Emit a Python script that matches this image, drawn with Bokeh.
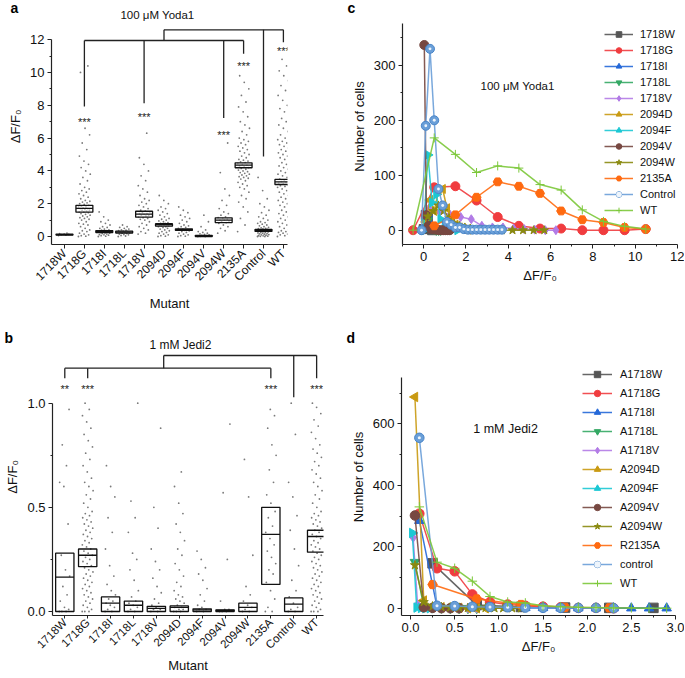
import math
from bokeh.plotting import figure
from bokeh.layouts import column, row
from bokeh.models import FixedTicker, Label, Legend, LegendItem, Range1d, Title, ColumnDataSource
from bokeh.embed import file_html
from bokeh.resources import INLINE
from bokeh.core.properties import value

FONT = "Liberation Sans"

# ---------------- data ----------------
mutants = ["1718W", "1718G", "1718I", "1718L", "1718V", "2094D", "2094F",
           "2094V", "2094W", "2135A", "Control", "WT"]

# panel a (100 uM Yoda1) box statistics
a_q1 = [0.09, 1.48, 0.24, 0.21, 1.18, 0.63, 0.37, 0.0, 0.85, 4.19, 0.31, 3.17]
a_med = [0.12, 1.72, 0.30, 0.27, 1.36, 0.72, 0.42, 0.03, 1.00, 4.35, 0.37, 3.33]
a_q3 = [0.15, 1.90, 0.36, 0.33, 1.54, 0.78, 0.47, 0.06, 1.14, 4.49, 0.44, 3.48]

a_pts_1718W = [0.06, 0.09, 0.11, 0.13, 0.15, 0.18, 0.21]
a_pts_1718G = [0.0, 0.02, 0.05, 0.1, 0.15, 0.2, 0.3, 0.35, 0.4, 0.5, 0.6, 0.7, 0.75, 0.8, 0.9, 1.0, 1.05,
               1.1, 1.15, 1.2, 1.25, 1.3, 1.35, 1.4, 1.45, 1.5, 1.5, 1.55, 1.6, 1.6, 1.65, 1.7, 1.7, 1.75,
               1.8, 1.8, 1.85, 1.9, 1.95, 2.0, 2.05, 2.1, 2.15, 2.2, 2.3, 2.4, 2.5, 2.6, 2.7, 2.8, 2.9,
               3.0, 3.2, 3.4, 3.6, 3.8, 4.0, 4.2, 4.4, 4.6, 4.9, 5.3, 5.7, 6.2, 6.6, 10.0, 10.4]
a_pts_1718I = [0.0, 0.02, 0.05, 0.08, 0.1, 0.12, 0.15, 0.18, 0.2, 0.22, 0.25, 0.28, 0.3, 0.32, 0.35, 0.38,
               0.4, 0.45, 0.5, 0.55, 0.6, 0.7, 0.8, 0.9, 1.0, 1.2, 1.5]
a_pts_1718L = [0.0, 0.03, 0.06, 0.1, 0.12, 0.15, 0.18, 0.2, 0.22, 0.25, 0.27, 0.3, 0.32, 0.35, 0.38, 0.4,
               0.45, 0.5, 0.55, 0.6, 0.7]
a_pts_1718V = [0.15, 0.2, 0.3, 0.4, 0.5, 0.6, 0.7, 0.8, 0.9, 1.0, 1.05, 1.1, 1.15, 1.2, 1.25, 1.3, 1.3,
               1.35, 1.4, 1.4, 1.45, 1.5, 1.55, 1.6, 1.7, 1.8, 1.9, 2.0, 2.1, 2.2, 2.3, 2.5, 2.7, 2.9,
               3.1, 3.4, 3.7, 4.0, 4.4, 4.8, 6.3]
a_pts_2094D = [0.0, 0.02, 0.05, 0.1, 0.15, 0.2, 0.25, 0.3, 0.35, 0.4, 0.45, 0.5, 0.55, 0.6, 0.6, 0.65,
               0.65, 0.7, 0.7, 0.72, 0.75, 0.75, 0.8, 0.8, 0.85, 0.9, 0.95, 1.0, 1.05, 1.1, 1.2, 1.3,
               1.4, 1.5, 1.6, 1.7, 1.8, 2.0, 2.2, 2.5]
a_pts_2094F = [0.0, 0.02, 0.05, 0.1, 0.15, 0.2, 0.25, 0.3, 0.35, 0.38, 0.4, 0.42, 0.45, 0.5, 0.55, 0.6,
               0.65, 0.7, 0.8, 0.9, 1.0, 1.1, 1.2, 1.3, 1.45, 1.6, 1.8]
a_pts_2094V = [0.0, 0.0, 0.01, 0.02, 0.03, 0.04, 0.05, 0.07, 0.1, 0.13, 0.16, 0.2, 0.25, 0.3, 0.4, 0.6,
               0.9, 1.3]
a_pts_2094W = [0.2, 0.35, 0.5, 0.6, 0.7, 0.8, 0.85, 0.9, 0.95, 1.0, 1.0, 1.05, 1.1, 1.15, 1.2, 1.3, 1.4,
               1.5, 1.7, 1.9, 2.2, 2.5, 2.9, 3.9, 5.7]
a_pts_2135A = [0.3, 0.7, 1.1, 1.5, 1.8, 2.1, 2.3, 2.5, 2.7, 2.9, 3.0, 3.1, 3.2, 3.3, 3.4, 3.5, 3.55, 3.6,
               3.65, 3.7, 3.75, 3.8, 3.85, 3.9, 3.95, 4.0, 4.05, 4.1, 4.15, 4.2, 4.25, 4.3, 4.35, 4.4,
               4.45, 4.5, 4.55, 4.6, 4.65, 4.7, 4.8, 4.9, 5.0, 5.1, 5.2, 5.3, 5.4, 5.5, 5.6, 5.7, 5.8,
               5.9, 6.0, 6.2, 6.4, 6.6, 6.8, 7.0, 7.3, 7.6, 7.9, 8.2, 8.6, 9.0, 9.4, 9.8]
a_pts_Control = [0.0, 0.0, 0.01, 0.02, 0.04, 0.06, 0.08, 0.1, 0.12, 0.14, 0.16, 0.18, 0.2, 0.22, 0.24,
                 0.26, 0.28, 0.3, 0.32, 0.34, 0.36, 0.38, 0.4, 0.42, 0.44, 0.46, 0.48, 0.5, 0.53, 0.56,
                 0.6, 0.65, 0.7, 0.75, 0.8, 0.85, 0.9, 1.0, 1.1, 1.2, 1.3, 1.45, 1.6, 1.8, 2.0, 2.3,
                 2.8, 3.6]
a_pts_WT = [0.0, 0.05, 0.1, 0.15, 0.2, 0.25, 0.3, 0.35, 0.4, 0.5, 0.6, 0.7, 0.8, 0.9, 1.0, 1.1, 1.2,
            1.3, 1.4, 1.5, 1.6, 1.7, 1.8, 1.9, 2.0, 2.1, 2.2, 2.3, 2.4, 2.5, 2.6, 2.7, 2.8, 2.9, 3.0,
            3.05, 3.1, 3.15, 3.2, 3.25, 3.3, 3.35, 3.4, 3.45, 3.5, 3.6, 3.7, 3.8, 3.9, 4.0, 4.1, 4.2,
            4.3, 4.4, 4.5, 4.6, 4.7, 4.8, 4.9, 5.0, 5.1, 5.2, 5.3, 5.4, 5.5, 5.6, 5.7, 5.8, 5.9, 6.0,
            6.2, 6.4, 6.6, 6.8, 7.0, 7.2, 7.4, 7.6, 7.8, 8.0, 8.3, 8.6, 8.9, 9.2, 9.5, 9.8, 10.1,
            10.4, 10.8]
a_points = [a_pts_1718W, a_pts_1718G, a_pts_1718I, a_pts_1718L, a_pts_1718V, a_pts_2094D,
            a_pts_2094F, a_pts_2094V, a_pts_2094W, a_pts_2135A, a_pts_Control, a_pts_WT]

# panel a significance brackets
a_top_bracket = 12.6
a_low_bracket = 11.95
a_junction = 5
a_low_groups = [1, 4, 8, 9]
a_low_drop = [7.93, 8.13, 7.22, 11.14]
a_top_groups = [10, 11]
a_top_drop = [4.88, 11.85]
a_star_groups = [1, 4, 8, 9, 11]
a_star_y = [7.0, 7.3, 6.2, 10.4, 11.3]
a_star_text = ["***", "***", "***", "***", "***"]

# panel b (1 mM Jedi2)
b_q1 = [0.0, 0.215, 0.0, 0.0, 0.0, 0.0, 0.0, 0.0, 0.0, 0.13, 0.0, 0.285]
b_med = [0.165, 0.27, 0.04, 0.03, 0.015, 0.02, 0.008, 0.005, 0.02, 0.37, 0.035, 0.36]
b_q3 = [0.28, 0.30, 0.07, 0.05, 0.025, 0.027, 0.013, 0.008, 0.04, 0.50, 0.065, 0.39]

b_pts_1718W = [0.0, 0.0, 0.0, 0.01, 0.02, 0.05, 0.08, 0.12, 0.17, 0.2, 0.27, 0.42, 0.6, 0.62, 0.7, 0.8, 0.97]
b_pts_1718G = [0.0, 0.0, 0.0, 0.01, 0.02, 0.03, 0.04, 0.05, 0.06, 0.07, 0.08, 0.09, 0.1, 0.11, 0.12, 0.13,
               0.14, 0.15, 0.16, 0.17, 0.18, 0.19, 0.2, 0.21, 0.22, 0.23, 0.24, 0.25, 0.26, 0.27, 0.28,
               0.29, 0.3, 0.31, 0.32, 0.33, 0.34, 0.35, 0.36, 0.37, 0.38, 0.39, 0.4, 0.41, 0.42, 0.43,
               0.44, 0.45, 0.46, 0.47, 0.48, 0.5, 0.52, 0.54, 0.56, 0.58, 0.6, 0.62, 0.64, 0.67, 0.7,
               0.73, 0.76, 0.79, 0.82, 0.85, 0.88, 0.91, 0.94, 0.97, 1.0]
b_pts_1718I = [0.0, 0.0, 0.01, 0.02, 0.03, 0.04, 0.05, 0.06, 0.08, 0.1, 0.13, 0.17, 0.22, 0.3, 0.38, 0.45,
               0.55, 0.6, 0.7]
b_pts_1718L = [0.0, 0.0, 0.01, 0.02, 0.03, 0.04, 0.05, 0.07, 0.1, 0.15, 0.2, 0.25, 0.28, 0.38, 0.45, 0.53, 1.0]
b_pts_1718V = [0.0, 0.0, 0.01, 0.01, 0.02, 0.03, 0.04, 0.06, 0.09, 0.12, 0.16, 0.2, 0.24, 0.3, 0.4, 0.5, 0.88]
b_pts_2094D = [0.0, 0.0, 0.0, 0.01, 0.01, 0.02, 0.02, 0.03, 0.04, 0.05, 0.06, 0.07, 0.08, 0.1, 0.12, 0.14,
               0.17, 0.2, 0.23, 0.27, 0.3, 0.34, 0.38, 0.42, 0.47, 0.52, 0.6, 0.67]
b_pts_2094F = [0.0, 0.0, 0.01, 0.01, 0.02, 0.03, 0.05, 0.08, 0.11, 0.15, 0.18, 0.21, 0.25, 0.29]
b_pts_2094V = [0.0, 0.0, 0.0, 0.01, 0.01, 0.05, 0.25, 0.57, 0.9]
b_pts_2094W = [0.0, 0.0, 0.01, 0.02, 0.03, 0.05, 0.08, 0.12, 0.27, 0.55, 0.73]
b_pts_2135A = [0.0, 0.0, 0.02, 0.06, 0.1, 0.14, 0.18, 0.2, 0.23, 0.26, 0.29, 0.32, 0.35, 0.38, 0.41, 0.45,
               0.48, 0.52, 0.56, 0.62, 0.68, 0.75, 0.8, 0.88, 0.94, 0.97]
b_pts_Control = [0.0, 0.0, 0.01, 0.02, 0.04, 0.07, 0.1, 0.15, 0.22, 0.3, 0.39, 0.46, 0.55, 0.62, 0.85, 1.0]
b_pts_WT = [0.0, 0.0, 0.0, 0.01, 0.02, 0.03, 0.04, 0.05, 0.06, 0.07, 0.08, 0.09, 0.1, 0.11, 0.12, 0.13,
            0.14, 0.15, 0.16, 0.17, 0.18, 0.19, 0.2, 0.21, 0.22, 0.23, 0.24, 0.25, 0.26, 0.27, 0.28,
            0.29, 0.3, 0.31, 0.32, 0.33, 0.34, 0.35, 0.36, 0.37, 0.38, 0.39, 0.4, 0.41, 0.42, 0.43,
            0.44, 0.45, 0.46, 0.47, 0.48, 0.5, 0.52, 0.54, 0.56, 0.58, 0.6, 0.62, 0.64, 0.66, 0.68,
            0.7, 0.72, 0.74, 0.76, 0.78, 0.8, 0.83, 0.86, 0.89, 0.92, 0.95, 0.98, 1.0]
b_points = [b_pts_1718W, b_pts_1718G, b_pts_1718I, b_pts_1718L, b_pts_1718V, b_pts_2094D,
            b_pts_2094F, b_pts_2094V, b_pts_2094W, b_pts_2135A, b_pts_Control, b_pts_WT]

b_top_bracket = 1.229
b_low_bracket = 1.168
b_junction = 4.32
b_low_groups = [0, 1, 9]
b_low_drop = [1.12, 1.12, 1.12]
b_top_groups = [10, 11]
b_top_drop = [1.029, 1.12]
b_star_groups = [0, 1, 9, 11]
b_star_y = [1.07, 1.07, 1.07, 1.07]
b_star_text = ["**", "***", "***", "***"]

# panel c histograms (100 uM Yoda1)
c_names = ["1718W", "1718G", "1718I", "1718L", "1718V", "2094D", "2094F", "2094V", "2094W",
           "2135A", "Control", "WT"]
c_x_1718W = [0.0, 0.1, 0.2, 0.3, 0.4]
c_y_1718W = [2, 28, 22, 3, 0]
c_x_1718G = [-0.5, 0.5, 1.5, 2.5, 3.5, 4.5, 5.5, 6.5, 7.5, 8.5, 9.5, 10.5]
c_y_1718G = [0, 78, 80, 54, 24, 8, 3, 3, 0, 0, 0, 2]
c_x_1718I = [0.0, 0.1, 0.2, 0.3, 0.4, 0.5, 0.6]
c_y_1718I = [3, 22, 30, 12, 4, 1, 0]
c_x_1718L = [0.0, 0.1, 0.2, 0.3, 0.4, 0.5, 0.6, 0.7, 0.8]
c_y_1718L = [2, 15, 18, 8, 3, 1, 0, 0, 0]
c_x_1718V = [0.25, 0.75, 1.25, 1.75, 2.25, 2.75, 3.25, 3.75, 4.25, 4.75, 5.25, 5.75, 6.25]
c_y_1718V = [40, 33, 28, 24, 20, 8, 5, 5, 3, 2, 1, 0, 0]
c_x_2094D = [0.1, 0.3, 0.5, 0.7, 0.9, 1.1, 1.3, 1.5, 1.7, 1.9, 2.1]
c_y_2094D = [15, 55, 35, 72, 75, 40, 20, 10, 5, 2, 1]
c_x_2094F = [0.0, 0.2, 0.4, 0.6, 0.8, 1.0, 1.2, 1.4, 1.6]
c_y_2094F = [0, 137, 50, 65, 20, 6, 2, 1, 0]
c_x_2094V = [0.03, 0.13, 0.23, 0.33, 0.43, 0.53, 0.63, 0.73, 0.83, 0.93, 1.03, 1.13, 1.23]
c_y_2094V = [337, 27, 8, 3, 2, 1, 1, 0, 0, 0, 0, 0, 0]
c_x_2094W = [0.2, 0.45, 0.7, 0.95, 1.2, 1.45, 1.7, 1.95, 2.2, 2.7, 3.2, 3.7, 4.2, 4.7, 5.2, 5.7]
c_y_2094W = [25, 35, 45, 35, 22, 12, 8, 5, 3, 1, 1, 0, 0, 0, 0, 0]
c_x_2135A = [0.5, 1.5, 2.5, 3.5, 4.5, 5.5, 6.5, 7.5, 8.5, 9.5, 10.5]
c_y_2135A = [8, 28, 60, 88, 80, 67, 35, 19, 14, 5, 2]
c_x_Control = [-0.1, 0.1, 0.3, 0.5, 0.7, 0.9, 1.1, 1.3, 1.5, 1.7, 1.9, 2.1, 2.3, 2.5, 2.7, 2.9, 3.1,
               3.3, 3.5, 3.7]
c_y_Control = [0, 190, 330, 200, 75, 45, 15, 10, 5, 5, 2, 1, 1, 1, 1, 1, 1, 1, 1, 1]
c_x_WT = [-0.5, 0.5, 1.5, 2.5, 3.5, 4.5, 5.5, 6.5, 7.5, 8.5, 9.5, 10.5]
c_y_WT = [0, 168, 138, 105, 117, 113, 83, 73, 37, 16, 7, 2]
c_xs = [c_x_1718W, c_x_1718G, c_x_1718I, c_x_1718L, c_x_1718V, c_x_2094D, c_x_2094F, c_x_2094V,
        c_x_2094W, c_x_2135A, c_x_Control, c_x_WT]
c_ys = [c_y_1718W, c_y_1718G, c_y_1718I, c_y_1718L, c_y_1718V, c_y_2094D, c_y_2094F, c_y_2094V,
        c_y_2094W, c_y_2135A, c_y_Control, c_y_WT]

# panel d histograms (1 mM Jedi2)
d_names = ["A1718W", "A1718G", "A1718I", "A1718L", "A1718V", "A2094D", "A2094F", "A2094V",
           "A2094W", "R2135A", "control", "WT"]
d_x_1718W = [0.25, 0.75, 1.25, 1.75, 2.25, 2.75]
d_y_1718W = [146, 10, 4, 2, 1, 1]
d_x_1718G = [0.1, 0.3, 0.5, 0.7, 0.9, 1.1, 1.3, 1.5, 1.7, 1.9, 2.1, 2.3]
d_y_1718G = [308, 130, 120, 45, 20, 12, 8, 5, 3, 1, 1, 0]
d_x_1718I = [0.1, 0.3, 0.5, 0.7, 0.9, 1.1, 1.3, 1.5, 1.7, 1.9, 2.1, 2.3, 2.5, 2.7, 2.9]
d_y_1718I = [285, 5, 3, 2, 2, 1, 1, 1, 0, 0, 0, 0, 0, 0, 0]
d_x_1718L = [0.05, 0.15, 0.25, 0.35, 0.45, 0.55, 0.65, 0.75]
d_y_1718L = [150, 5, 2, 1, 0, 0, 0, 0]
d_x_1718V = [0.03, 0.08, 0.15, 0.25, 0.35, 0.45, 0.55, 0.65, 0.75]
d_y_1718V = [230, 12, 3, 1, 1, 0, 0, 0, 0]
d_x_2094D = [0.05, 0.15, 0.25, 0.35, 0.45, 0.55, 0.65, 0.75, 0.85]
d_y_2094D = [688, 25, 5, 3, 2, 1, 0, 0, 0]
d_x_2094F = [0.02, 0.07, 0.12, 0.17, 0.22, 0.27]
d_y_2094F = [245, 2, 1, 0, 0, 0]
d_x_2094V = [0.05, 0.15, 0.25, 0.35, 0.45, 0.55]
d_y_2094V = [302, 3, 1, 0, 0, 0]
d_x_2094W = [0.05, 0.15, 0.25, 0.35, 0.45, 0.55, 0.65, 0.75, 0.85, 0.95, 1.05, 1.15, 1.25]
d_y_2094W = [140, 20, 6, 4, 3, 2, 1, 1, 1, 0, 0, 0, 0]
d_x_2135A = [0.25, 0.75, 1.25, 1.75, 2.25]
d_y_2135A = [77, 30, 12, 3, 1]
d_x_control = [0.1, 0.3, 0.5, 0.7, 0.9, 1.1, 1.3, 1.5, 1.7, 1.9, 2.1, 2.3]
d_y_control = [555, 8, 7, 5, 4, 3, 2, 1, 1, 1, 1, 0]
d_x_WT = [0.1, 0.3, 0.5, 0.7, 0.9, 1.1, 1.3, 1.5, 1.7, 1.9, 2.1, 2.3, 2.5, 2.7, 2.9]
d_y_WT = [330, 150, 130, 88, 38, 20, 17, 8, 5, 3, 2, 1, 1, 0, 0]
d_xs = [d_x_1718W, d_x_1718G, d_x_1718I, d_x_1718L, d_x_1718V, d_x_2094D, d_x_2094F, d_x_2094V,
        d_x_2094W, d_x_2135A, d_x_control, d_x_WT]
d_ys = [d_y_1718W, d_y_1718G, d_y_1718I, d_y_1718L, d_y_1718V, d_y_2094D, d_y_2094F, d_y_2094V,
        d_y_2094W, d_y_2135A, d_y_control, d_y_WT]

# series styles (marker, colour, rotation in degrees)
series_style = [
    ("square", "#555555", 0),
    ("circle", "#f03c3f", 0),
    ("triangle", "#2468d8", 0),
    ("inverted_triangle", "#34a864", 0),
    ("diamond", "#b27be6", 0),
    ("triangle", "#c99a12", 90),
    ("triangle", "#1cc8d4", -90),
    ("circle", "#774841", 0),
    ("star", "#8a8a10", 0),
    ("hex", "#ff6a10", 0),
    ("circle", "#6a9fd8", 0),
    ("cross", "#7cc83a", 0),
]


# ---------------- helpers ----------------
def make_fig(w, h, xr, yr, bl, br, bt, bb):
    p = figure(width=w, height=h, x_range=Range1d(*xr), y_range=Range1d(*yr),
               output_backend="svg", toolbar_location=None,
               min_border_left=bl, min_border_right=br, min_border_top=bt, min_border_bottom=bb)
    p.xgrid.grid_line_color = None
    p.ygrid.grid_line_color = None
    p.outline_line_color = None
    return p


def style_axis(ax, label_size="13px", standoff=3, label_standoff=4, tick_out=4):
    ax.axis_line_color = "#222222"
    ax.axis_line_width = 1.2
    ax.major_tick_line_color = "#222222"
    ax.minor_tick_line_color = "#222222"
    ax.major_tick_out = tick_out
    ax.major_tick_in = 0
    ax.minor_tick_out = 2
    ax.minor_tick_in = 0
    ax.major_label_text_font = FONT
    ax.major_label_text_font_size = label_size
    ax.major_label_text_color = "#111111"
    ax.major_label_standoff = standoff
    ax.axis_label_text_font = FONT
    ax.axis_label_text_font_size = "13px"
    ax.axis_label_text_font_style = "normal"
    ax.axis_label_text_color = "#111111"
    ax.axis_label_standoff = label_standoff


def jitter(n, width):
    return [(((k * 0.6180339887) % 1.0) - 0.5) * 2 * width for k in range(n)]


def txt(p, x, y, s, size, align="center", baseline="middle"):
    p.add_layout(Label(x=x, y=y, text=s, text_font=FONT, text_font_size=size, text_align=align,
                       text_baseline=baseline, text_color="#111111"))


def panel_letter(p, letter, offset):
    p.add_layout(Title(text=letter, text_font=FONT, text_font_size="14px", text_font_style="bold",
                       text_color="#000000", align="left", vertical_align="bottom",
                       offset=offset, standoff=-14), "above")


def strip_panel(p, points, q1, med, q3, jw, bw, fill_alpha, box_lw):
    xs, ys = [], []
    for i, vals in enumerate(points):
        off = jitter(len(vals), jw)
        xs += [i + o for o in off]
        ys += vals
    p.scatter(xs, ys, marker="circle", size=1.8, fill_color="#222222", line_color=None, fill_alpha=0.6)
    idx = list(range(len(mutants)))
    p.quad(left=[i - bw / 2 for i in idx], right=[i + bw / 2 for i in idx], bottom=q1, top=q3,
           fill_color="white", fill_alpha=fill_alpha, line_color="#111111", line_width=box_lw)
    p.segment(x0=[i - bw / 2 for i in idx], x1=[i + bw / 2 for i in idx], y0=med, y1=med,
              line_color="#111111", line_width=box_lw)
    p.xaxis.ticker = FixedTicker(ticks=idx)
    p.xaxis.major_label_overrides = {i: m for i, m in enumerate(mutants)}
    p.xaxis.major_label_orientation = math.pi / 4
    p.xaxis.axis_label = "Mutant"


def brackets(p, junction, top_y, low_y, low_groups, low_drop, top_groups, top_drop,
             star_groups, star_y, star_text):
    x0, x1, y0, y1 = [], [], [], []
    x0.append(min(low_groups)); x1.append(max(low_groups)); y0.append(low_y); y1.append(low_y)
    for g, d in zip(low_groups, low_drop):
        x0.append(g); x1.append(g); y0.append(low_y); y1.append(d)
    x0.append(junction); x1.append(max(top_groups)); y0.append(top_y); y1.append(top_y)
    x0.append(junction); x1.append(junction); y0.append(top_y); y1.append(low_y)
    for g, d in zip(top_groups, top_drop):
        x0.append(g); x1.append(g); y0.append(top_y); y1.append(d)
    p.segment(x0=x0, x1=x1, y0=y0, y1=y1, line_color="#222222", line_width=1.3)
    p.text(x=star_groups, y=star_y, text=star_text, text_font=value(FONT), text_font_size="11px",
           text_align="center", text_baseline="middle", text_color="#222222")


def hist_panel(p, xs_list, ys_list, names, msize, loc, gw, gh, spacing, standoff):
    items = []
    for xs, ys, name, (mk, col, rot) in zip(xs_list, ys_list, names, series_style):
        src = ColumnDataSource(dict(x=xs, y=ys, rot=[math.radians(rot)] * len(xs)))
        rs = [p.line("x", "y", source=src, line_color=col, line_width=1.5, line_alpha=0.9)]
        if mk == "cross":
            rs.append(p.scatter("x", "y", source=src, marker="cross", size=msize, line_color=col,
                                line_width=1))
        elif name.lower() == "control":
            rs.append(p.scatter("x", "y", source=src, marker="circle", size=msize, fill_color=col,
                                line_color="#4a85c8", line_width=1))
            rs.append(p.scatter("x", "y", source=src, marker="circle", size=msize * 0.32,
                                fill_color="#eef5fc", line_color=None))
        else:
            rs.append(p.scatter("x", "y", source=src, marker=mk, size=msize, fill_color=col,
                                line_color=col, angle="rot"))
        items.append(LegendItem(label=name, renderers=rs))
    lg = Legend(items=items, location=loc, padding=0, margin=0, border_line_color=None,
                background_fill_alpha=0, glyph_width=gw, glyph_height=gh, label_height=gh,
                spacing=spacing, label_standoff=standoff, label_text_font=FONT,
                label_text_font_size="11px", label_text_color="#111111")
    p.add_layout(lg)


# ---------------- panel a ----------------
pa = make_fig(343, 330, (-0.653, 11.206), (-0.488, 13.90), 51, 56, 8, 86)
strip_panel(pa, a_points, a_q1, a_med, a_q3, 0.3, 0.85, 0.55, 1.3)
brackets(pa, a_junction, a_top_bracket, a_low_bracket, a_low_groups, a_low_drop, a_top_groups,
         a_top_drop, a_star_groups, a_star_y, a_star_text)
pa.yaxis.ticker = FixedTicker(ticks=[0, 2, 4, 6, 8, 10, 12], minor_ticks=[1, 3, 5, 7, 9, 11])
pa.yaxis.bounds = (-0.488, 12)
pa.yaxis.axis_label = "ΔF/F₀"
style_axis(pa.xaxis, "12px")
style_axis(pa.yaxis)
txt(pa, 4.67, 13.48, "100 μM Yoda1", "11.5px")
panel_letter(pa, "a", -41)

# ---------------- panel b ----------------
pb = make_fig(343, 348, (-0.537, 11.30), (-0.0192, 1.3106), 52, 20, 8, 63)
strip_panel(pb, b_points, b_q1, b_med, b_q3, 0.24, 0.8, 0.0, 1.3)
brackets(pb, b_junction, b_top_bracket, b_low_bracket, b_low_groups, b_low_drop, b_top_groups,
         b_top_drop, b_star_groups, b_star_y, b_star_text)
pb.yaxis.ticker = FixedTicker(ticks=[0.0, 0.5, 1.0], minor_ticks=[0.25, 0.75])
pb.yaxis.major_label_overrides = {0.0: "0.0", 0.5: "0.5", 1.0: "1.0"}
pb.yaxis.bounds = (-0.0192, 1.0)
pb.yaxis.axis_label = "ΔF/F₀"
style_axis(pb.xaxis, "11.5px", standoff=2, label_standoff=0, tick_out=3)
style_axis(pb.yaxis)
txt(pb, 5.05, 1.28, "1 mM Jedi2", "12px")
panel_letter(pb, "b", -48)

# ---------------- panel c ----------------
pc = make_fig(341, 330, (-1.0, 12.0), (-26, 403.4), 59, 7, 8, 85)
hist_panel(pc, c_xs, c_ys, c_names, 9, (202, 27), 29, 14, 2, 7)
pc.yaxis.ticker = FixedTicker(ticks=[0, 100, 200, 300], minor_ticks=[50, 150, 250, 350])
pc.yaxis.bounds = (-26, 376)
pc.xaxis.ticker = FixedTicker(ticks=[0, 2, 4, 6, 8, 10, 12], minor_ticks=[-1, 1, 3, 5, 7, 9, 11])
pc.yaxis.axis_label = "Number of cells"
pc.xaxis.axis_label = "ΔF/F₀"
style_axis(pc.xaxis)
style_axis(pc.yaxis)
txt(pc, 2.69, 262, "100 μM Yoda1", "11.5px", align="left")
panel_letter(pc, "c", -55)

# ---------------- panel d ----------------
pd = make_fig(341, 348, (-0.102, 3.0), (-23.8, 878.5), 58, 9, 8, 63)
hist_panel(pd, d_xs, d_ys, d_names, 9.5, (181, 24), 30, 16, 3, 8)
pd.yaxis.ticker = FixedTicker(ticks=[0, 200, 400, 600], minor_ticks=[100, 300, 500, 700])
pd.yaxis.bounds = (-23.8, 752)
pd.xaxis.ticker = FixedTicker(ticks=[0.0, 0.5, 1.0, 1.5, 2.0, 2.5, 3.0],
                              minor_ticks=[0.25, 0.75, 1.25, 1.75, 2.25, 2.75])
pd.xaxis.major_label_overrides = {0.0: "0.0", 0.5: "0.5", 1.0: "1.0", 1.5: "1.5", 2.0: "2.0",
                                  2.5: "2.5", 3.0: "3.0"}
pd.yaxis.axis_label = "Number of cells"
pd.xaxis.axis_label = "ΔF/F₀"
style_axis(pd.xaxis)
style_axis(pd.yaxis)
txt(pd, 0.71, 583, "1 mM Jedi2", "12.5px", align="left")
panel_letter(pd, "d", -55)

layout = column(row(pa, pc), row(pb, pd))
open("out.html", "w").write(file_html(layout, INLINE))
